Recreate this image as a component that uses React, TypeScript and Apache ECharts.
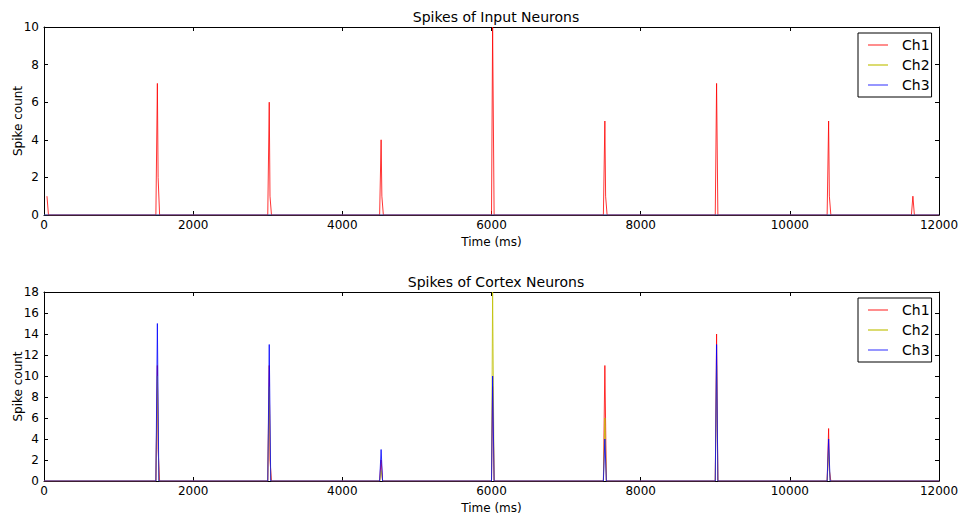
import React, { useEffect, useRef } from "react";
import * as echarts from "echarts";

const titles = ["Spikes of Input Neurons", "Spikes of Cortex Neurons"];
const channelNames = ["Ch1", "Ch2", "Ch3"];
const channelColors = ["rgba(255,0,0,0.8)", "rgba(191,191,0,0.8)", "rgba(0,0,255,0.8)"];
const legendColors = ["rgba(255,0,0,0.6)", "rgba(191,191,0,0.75)", "rgba(0,0,255,0.55)"];

// Input neurons: [time (ms), spike count]
const inputCh1: [number, number][] = [
  [40, 1], [60, 0],
  [1500, 0], [1520, 7], [1530, 2], [1550, 0],
  [3000, 0], [3020, 6], [3030, 1], [3050, 0],
  [4500, 0], [4520, 4], [4530, 1], [4550, 0],
  [6000, 0], [6015, 10], [6035, 0],
  [7500, 0], [7520, 5], [7530, 1], [7550, 0],
  [9000, 0], [9018, 7], [9035, 0],
  [10500, 0], [10520, 5], [10530, 1], [10550, 0],
  [11630, 0], [11650, 1], [11670, 0], [12000, 0],
];
const inputCh2: [number, number][] = [[0, 0], [12000, 0]];
const inputCh3: [number, number][] = [[0, 0], [12000, 0]];

// Cortex neurons
const cortexCh1: [number, number][] = [
  [0, 0],
  [1500, 0], [1520, 11], [1530, 3], [1550, 0],
  [3000, 0], [3020, 11], [3030, 2], [3050, 0],
  [4500, 0], [4520, 2], [4540, 0],
  [6000, 0], [6015, 9], [6035, 0],
  [7500, 0], [7520, 11], [7540, 0],
  [9000, 0], [9018, 14], [9035, 0],
  [10500, 0], [10520, 5], [10530, 1], [10550, 0],
  [12000, 0],
];
const cortexCh2: [number, number][] = [
  [0, 0],
  [1500, 0], [1520, 10], [1540, 0],
  [3000, 0], [3020, 9], [3040, 0],
  [4500, 0], [4520, 1], [4540, 0],
  [6000, 0], [6015, 18], [6035, 0],
  [7500, 0], [7520, 6], [7540, 0],
  [9000, 0], [9018, 11], [9035, 0],
  [10500, 0], [10520, 3], [10540, 0],
  [12000, 0],
];
const cortexCh3: [number, number][] = [
  [0, 0],
  [1500, 0], [1520, 15], [1540, 0],
  [3000, 0], [3020, 13], [3040, 0],
  [4500, 0], [4520, 3], [4540, 0],
  [6000, 0], [6015, 10], [6035, 0],
  [7500, 0], [7520, 4], [7540, 0],
  [9000, 0], [9018, 13], [9035, 0],
  [10500, 0], [10520, 4], [10540, 0],
  [12000, 0],
];

const xMin = 0, xMax = 12000, xStep = 2000;
const yMaxes = [10, 18];
const yStep = 2;

const FONT = "DejaVu Sans";

export default function App() {
  const ref = useRef<HTMLDivElement>(null);
  useEffect(() => {
    if (!ref.current) return;
    const chart = echarts.init(ref.current, null, { renderer: "svg" });
    const grids = [
      { left: 44, top: 27, width: 895, height: 188, outerBoundsMode: "none", containLabel: false },
      { left: 44, top: 292, width: 895, height: 189, outerBoundsMode: "none", containLabel: false },
    ];
    const axisLine = { show: true, onZero: false, lineStyle: { color: "#000", width: 1 } };
    const tick = { show: true, inside: true, length: 4, lineStyle: { color: "#000" } };
    const xAxes: any[] = [];
    const yAxes: any[] = [];
    grids.forEach((_, gi) => {
      xAxes.push({
        type: "value", gridIndex: gi, min: xMin, max: xMax, interval: xStep, position: "bottom",
        name: "Time (ms)", nameLocation: "middle", nameGap: 21, nameMoveOverlap: false,
        nameTextStyle: { color: "#000", fontSize: 12, fontFamily: FONT },
        axisLine, axisTick: tick, splitLine: { show: false },
        axisLabel: { color: "#000", fontSize: 12, fontFamily: FONT, margin: 4, formatter: (v: number) => String(v) },
      });
      xAxes.push({
        type: "value", gridIndex: gi, min: xMin, max: xMax, interval: xStep, position: "top",
        axisLine, axisTick: tick, splitLine: { show: false }, axisLabel: { show: false },
      });
      yAxes.push({
        type: "value", gridIndex: gi, min: 0, max: yMaxes[gi], interval: yStep, position: "left",
        name: "Spike count", nameLocation: "middle", nameGap: 20, nameRotate: 90, nameMoveOverlap: false,
        nameTextStyle: { color: "#000", fontSize: 12, fontFamily: FONT },
        axisLine, axisTick: tick, splitLine: { show: false },
        axisLabel: { color: "#000", fontSize: 12, fontFamily: FONT, margin: 5, formatter: (v: number) => String(v) },
      });
      yAxes.push({
        type: "value", gridIndex: gi, min: 0, max: yMaxes[gi], interval: yStep, position: "right",
        axisLine, axisTick: tick, splitLine: { show: false }, axisLabel: { show: false },
      });
    });
    const allData = [
      [inputCh1, inputCh2, inputCh3],
      [cortexCh1, cortexCh2, cortexCh3],
    ];
    const series: any[] = [];
    allData.forEach((chs, gi) => {
      chs.forEach((d, ci) => {
        series.push({
          type: "line", name: channelNames[ci], data: d,
          xAxisIndex: gi * 2, yAxisIndex: gi * 2,
          showSymbol: false, symbol: "none",
          lineStyle: { color: channelColors[ci], width: 1 },
          itemStyle: { color: channelColors[ci] },
          clip: true,
        });
      });
    });
    const legends = grids.map((g, gi) => ({
      orient: "vertical",
      left: 858, top: gi === 0 ? 33 : 298,
      padding: [4, 2, 4, 10],
      itemGap: 4,
      itemWidth: 20, itemHeight: 1.5,
      icon: "rect",
      borderColor: "#000", borderWidth: 1,
      backgroundColor: "#fff",
      textStyle: { color: "#000", fontSize: 14, fontFamily: FONT, lineHeight: 16, padding: [0, 0, 0, 9] },
      data: channelNames.map((n, ci) => ({ name: n, itemStyle: { color: legendColors[ci] } })),
    }));
    chart.setOption({
      animation: false,
      backgroundColor: "#fff",
      title: titles.map((t, gi) => ({
        text: t, left: 491, textAlign: "center", top: gi === 0 ? 5 : 270,
        textStyle: { color: "#000", fontSize: 14, fontWeight: "normal", fontFamily: FONT },
      })),
      grid: grids,
      xAxis: xAxes,
      yAxis: yAxes,
      legend: legends,
      series,
    });
    return () => chart.dispose();
  }, []);
  return (
    <div
      ref={ref}
      style={{ position: "fixed", left: 0, top: 0, width: 959, height: 516, background: "#fff" }}
    />
  );
}
